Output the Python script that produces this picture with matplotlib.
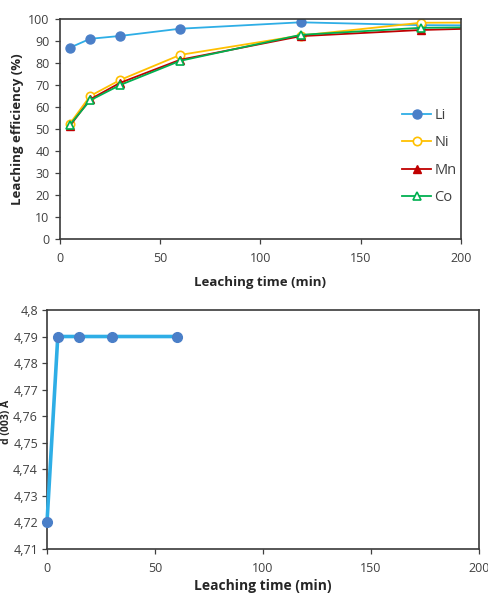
import matplotlib
matplotlib.use("Agg")
import matplotlib.pyplot as plt

plt.rcParams['font.family'] = ['Open Sans', 'DejaVu Sans']

# ---- top chart data ----
time_top = [5, 15, 30, 60, 120, 180, 240]
li = [87.0, 91.0, 92.3, 95.6, 98.5, 97.2, 97.0]
ni = [52.5, 65.0, 72.3, 83.7, 92.5, 98.3, 98.5]
mn = [51.5, 63.5, 71.0, 81.5, 92.2, 95.0, 96.5]
co = [52.0, 63.0, 70.0, 81.0, 92.8, 96.0, 96.5]
top_yticks = [0, 10, 20, 30, 40, 50, 60, 70, 80, 90, 100]
top_xticks = [0, 50, 100, 150, 200]

# ---- bottom chart data ----
time_bot = [0, 5, 15, 30, 60]
d003 = [4.72, 4.79, 4.79, 4.79, 4.79]
bot_yticks = [4.71, 4.72, 4.73, 4.74, 4.75, 4.76, 4.77, 4.78, 4.79, 4.80]
bot_yticklabels = ['4,71', '4,72', '4,73', '4,74', '4,75', '4,76', '4,77', '4,78', '4,79', '4,8']
bot_xticks = [0, 50, 100, 150, 200]

tick_color = '#404040'
fig = plt.figure(figsize=(4.89, 5.94), dpi=100)

ax1 = fig.add_axes([0.1227, 0.5976, 0.820, 0.3704])
ax1.plot(time_top, li, color='#2EAEE6', lw=1.3, marker='o', ms=6.5,
         mfc='#4A7FC8', mec='#4A7FC8', label='Li', clip_on=True)
ax1.plot(time_top, ni, color='#FFC000', lw=1.3, marker='o', ms=6,
         mfc='white', mec='#FFC000', mew=1.2, label='Ni')
ax1.plot(time_top, mn, color='#C00000', lw=1.3, marker='^', ms=6,
         mfc='#C00000', mec='#C00000', label='Mn')
ax1.plot(time_top, co, color='#00B050', lw=1.3, marker='^', ms=6,
         mfc='white', mec='#00B050', mew=1.2, label='Co')
ax1.set_xlim(0, 200)
ax1.set_ylim(0, 100)
ax1.set_xticks(top_xticks)
ax1.set_yticks(top_yticks)
ax1.tick_params(direction='out', length=3.5, width=0.9, labelsize=9,
                colors=tick_color)
ax1.tick_params(axis='x', pad=6)
ax1.tick_params(axis='y', pad=4)
for s in ax1.spines.values():
    s.set_color('#3a3a3a')
    s.set_linewidth(1.2)
ax1.set_xlabel('Leaching time (min)', fontsize=9.5, fontweight='bold',
               color='#262626', labelpad=8)
ax1.set_ylabel('Leaching efficiency (%)', fontsize=9.5, fontweight='bold',
               color='#262626', labelpad=3)
leg = ax1.legend(loc='center left', bbox_to_anchor=(0.835, 0.375),
                 frameon=False, fontsize=10.5, handlelength=2.0,
                 handletextpad=0.2, labelspacing=0.85, borderpad=0)
for t in leg.get_texts():
    t.set_color('#404040')

ax2 = fig.add_axes([0.0961, 0.0758, 0.8834, 0.4024])
ax2.plot(time_bot, d003, color='#2EAEE6', lw=2.6, marker='o', ms=7,
         mfc='#4A7FC8', mec='#4A7FC8', clip_on=False, zorder=3)
ax2.set_xlim(0, 200)
ax2.set_ylim(4.71, 4.80)
ax2.set_xticks(bot_xticks)
ax2.set_yticks(bot_yticks)
ax2.set_yticklabels(bot_yticklabels)
ax2.tick_params(direction='out', length=3.5, width=0.9, labelsize=9,
                colors=tick_color)
ax2.tick_params(axis='x', pad=6)
ax2.tick_params(axis='y', pad=3)
for s in ax2.spines.values():
    s.set_color('#3a3a3a')
    s.set_linewidth(1.2)
ax2.set_xlabel('Leaching time (min)', fontsize=10, fontweight='bold',
               color='#262626', labelpad=3)
fig.text(0.001, 0.29, 'd (003) Å', rotation=90, fontsize=7.5, fontweight='bold',
         color='#262626', ha='left', va='center')

fig.savefig('out.png', dpi=100)
